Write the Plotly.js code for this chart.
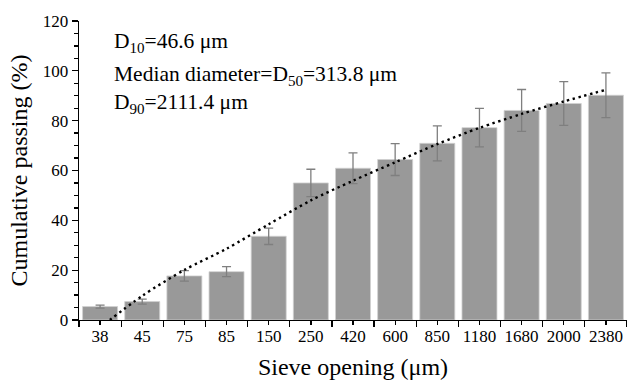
<!DOCTYPE html>
<html>
<head>
<meta charset="utf-8">
<script src="https://cdn.plot.ly/plotly-3.0.1.min.js"></script>
<style>html,body{margin:0;padding:0;background:#fff;}#chart{width:627px;height:381px;}</style>
</head>
<body>
<div id="chart"></div>
<script>
// Sieve openings (µm) — categories
const sieveOpenings = ['38','45','75','85','150','250','420','600','850','1180','1680','2000','2380'];
// Cumulative passing (%)
const cumulativePassing = [5.4, 7.4, 17.7, 19.4, 33.6, 55.0, 60.9, 64.4, 70.9, 77.2, 84.1, 86.9, 90.2];
// Error (± %)
const passingError = [0.6, 1.0, 2.1, 2.0, 3.3, 5.5, 6.2, 6.4, 7.0, 7.7, 8.4, 8.8, 9.0];
// Dotted trend line values read at each category
const trendValues = [-3.0, 9.7, 20.1, 28.6, 38.4, 48.0, 55.9, 63.3, 70.6, 77.1, 82.7, 87.7, 92.4];
// Annotation texts
const annotationTexts = ['D<sub>10</sub>=46.6 μm', 'Median diameter=D<sub>50</sub>=313.8 μm', 'D<sub>90</sub>=2111.4 μm'];
const yTickVals = [0, 20, 40, 60, 80, 100, 120];

const FONT = '"Liberation Serif", "Times New Roman", serif';

const traces = [
  {
    type: 'bar',
    x: sieveOpenings,
    y: cumulativePassing,
    xaxis: 'x', yaxis: 'y',
    marker: {color: '#999999', line: {color: '#d0d0d0', width: 0.8}},
    error_y: {type: 'data', array: passingError, visible: true, color: '#7f7f7f', thickness: 1.3, width: 4.5},
    hoverinfo: 'skip'
  },
  {
    type: 'scatter',
    mode: 'lines',
    x: sieveOpenings,
    y: trendValues,
    xaxis: 'x2', yaxis: 'y',
    line: {color: '#000000', width: 2.4, dash: '2.4px,3.6px', shape: 'spline', smoothing: 0.8},
    hoverinfo: 'skip'
  }
];

const yPix = [42, 75, 103.5];
const plotTop = 20.7, plotBot = 320.3;
const annotations = annotationTexts.map((t, i) => ({
  text: t,
  xref: 'paper', yref: 'paper',
  x: (112 - 79) / 548,
  y: (plotBot - yPix[i]) / (plotBot - plotTop),
  xanchor: 'left', yanchor: 'middle',
  showarrow: false,
  font: {family: FONT, size: 21.5, color: '#000'}
}));

const layout = {
  width: 627, height: 381,
  margin: {l: 79, r: 0, t: 21, b: 61},
  paper_bgcolor: '#fff', plot_bgcolor: '#fff',
  showlegend: false,
  bargap: 0.17,
  font: {family: FONT, size: 17, color: '#000'},
  xaxis: {
    type: 'category',
    categoryorder: 'array', categoryarray: sieveOpenings,
    range: [-0.5, 12.5],
    tickson: 'boundaries',
    tickangle: 0,
    ticks: 'outside', ticklen: 6, tickwidth: 1.3, tickcolor: '#000',
    showline: true, linecolor: '#000', linewidth: 1.3,
    showgrid: false, zeroline: false,
    tickfont: {family: FONT, size: 17, color: '#000'},
    title: {text: 'Sieve opening (μm)', font: {family: FONT, size: 24, color: '#000'}, standoff: 13}
  },
  xaxis2: {
    type: 'category',
    overlaying: 'x', anchor: 'y', side: 'bottom',
    categoryorder: 'array', categoryarray: sieveOpenings,
    range: [-0.5, 12.5],
    ticks: 'outside', ticklen: 4, tickwidth: 1.3, tickcolor: '#000',
    showticklabels: false, showline: false, showgrid: false, zeroline: false
  },
  yaxis: {
    range: [0, 120],
    tickvals: yTickVals,
    ticks: 'outside', ticklen: 6, tickwidth: 1.3, tickcolor: '#000',
    minor: {dtick: 5, tick0: 0, ticks: 'outside', ticklen: 3.5, tickwidth: 1.3, tickcolor: '#000', showgrid: false},
    showline: true, linecolor: '#000', linewidth: 1.3,
    showgrid: false, zeroline: false,
    tickfont: {family: FONT, size: 17, color: '#000'},
    title: {text: 'Cumulative passing (%)', font: {family: FONT, size: 24, color: '#000'}, standoff: 8}
  },
  annotations: annotations
};

Plotly.newPlot('chart', traces, layout, {displayModeBar: false, staticPlot: true});
</script>
</body>
</html>
